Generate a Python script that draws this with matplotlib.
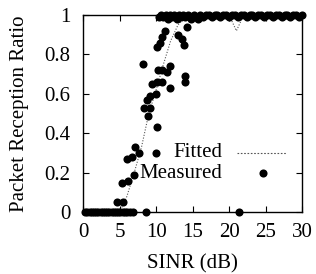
import numpy as np
import matplotlib.pyplot as plt

plt.rcParams['font.family'] = ['Liberation Serif', 'DejaVu Serif']
plt.rcParams['font.size'] = 15

# measured packet reception ratio vs SINR
meas_x = [0.3, 0.6, 0.9, 1.2, 1.5, 1.8, 2.1, 2.4, 2.7, 3.0, 3.3, 3.6, 3.9, 4.2,
          4.5, 4.8, 5.1, 5.4, 5.7, 6.0, 6.4, 6.9, 8.6, 21.4,
          4.7, 5.4,
          5.3, 6.1, 7.0, 6.0, 6.7, 7.1, 7.7, 10.0, 10.1, 8.4, 9.2, 8.9, 8.7,
          9.2, 10.0, 9.5, 10.1, 10.8, 11.9, 10.3, 10.8, 11.5, 11.9, 14.0, 14.0,
          8.2, 10.1, 10.5, 10.8, 11.2, 13.0, 13.5, 13.8, 14.3, 15.8,
          10.4, 10.7, 11.0, 11.3, 11.6, 11.9, 12.2, 12.5, 12.8, 13.1, 13.4,
          13.7, 14.0, 14.4, 14.8, 15.2, 15.6, 16.0, 16.4, 16.8, 17.2, 17.6,
          18.0, 18.4, 18.8, 19.2, 19.6, 20.0, 20.4, 20.8, 21.2, 21.6, 22.0,
          22.4, 22.8, 23.2, 23.6, 24.0, 24.4, 24.8, 25.2, 25.6, 26.0, 26.4,
          26.8, 27.2, 27.6, 28.0, 28.4, 28.8, 29.2, 29.6, 30.0]
meas_y = [0, 0, 0, 0, 0, 0, 0, 0, 0, 0, 0, 0, 0, 0,
          0, 0, 0, 0, 0, 0, 0, 0, 0, 0,
          0.05, 0.05,
          0.15, 0.16, 0.19, 0.27, 0.28, 0.33, 0.30, 0.30, 0.43, 0.53, 0.53, 0.49, 0.57,
          0.59, 0.60, 0.65, 0.66, 0.66, 0.63, 0.72, 0.72, 0.71, 0.74, 0.69, 0.66,
          0.75, 0.84, 0.86, 0.89, 0.92, 0.90, 0.88, 0.85, 0.94, 0.98,
          0.99, 1.0, 0.99, 1.0, 0.98, 1.0, 0.99, 1.0, 0.98, 1.0, 0.99,
          1.0, 0.99, 1.0, 0.98, 1.0, 0.99, 1.0, 0.99, 1.0, 1.0, 0.99,
          1.0, 1.0, 0.99, 1.0, 1.0, 0.99, 1.0, 1.0, 0.99, 1.0, 1.0,
          0.99, 1.0, 1.0, 0.99, 1.0, 1.0, 0.99, 1.0, 1.0, 0.99, 1.0,
          1.0, 0.99, 1.0, 1.0, 0.99, 1.0, 1.0, 0.99, 1.0]

# fitted curve
fit_x = [0, 1, 2, 3, 4, 5, 6, 7, 8, 9, 10, 11, 12, 13, 14, 15, 16, 17, 18, 19,
         20, 21, 22, 23, 24, 25, 26, 27, 28, 29, 30]
fit_y = [0, 0, 0, 0, 0, 0.0, 0.08, 0.2, 0.33, 0.5, 0.62, 0.75, 0.87, 0.95, 0.99,
         1.0, 1.0, 1.0, 1.0, 1.0, 1.0, 0.92, 1.0, 1.0, 1.0, 1.0, 1.0, 1.0, 1.0,
         1.0, 1.0]

fig = plt.figure(figsize=(3.16, 2.74), dpi=100)
ax = fig.add_axes([0.263, 0.226, 0.693, 0.719])

ax.plot(fit_x, fit_y, color='#555555', linestyle=(0, (1, 1.5)), linewidth=0.8)
ax.scatter(meas_x, meas_y, s=34, color='black', zorder=3, clip_on=False,
           linewidths=0)

ax.set_xlim(0, 30)
ax.set_ylim(0, 1)
ax.set_xticks([0, 5, 10, 15, 20, 25, 30])
ax.set_yticks([0, 0.2, 0.4, 0.6, 0.8, 1.0])
ax.set_yticklabels(['0', '0.2', '0.4', '0.6', '0.8', '1'])
ax.tick_params(direction='in', length=4, width=0.8, top=True, right=True)
ax.tick_params(axis='x', pad=8)
ax.tick_params(axis='y', pad=9)
for sp in ax.spines.values():
    sp.set_linewidth(1.0)

ax.set_xlabel('SINR (dB)', labelpad=9)
ax.set_ylabel('Packet Reception Ratio', labelpad=11)

# gnuplot-style key, text right aligned with sample after it
ax.text(0.635, 0.30, 'Fitted', transform=ax.transAxes, ha='right', va='center')
ax.text(0.635, 0.198, 'Measured', transform=ax.transAxes, ha='right', va='center')
ax.plot([0.703, 0.932], [0.30, 0.30], transform=ax.transAxes, color='#555555',
        linestyle=(0, (1.5, 1.5)), linewidth=0.8)
ax.scatter([0.822], [0.198], transform=ax.transAxes, s=34, color='black',
           linewidths=0)

fig.savefig('out.png', dpi=100)
